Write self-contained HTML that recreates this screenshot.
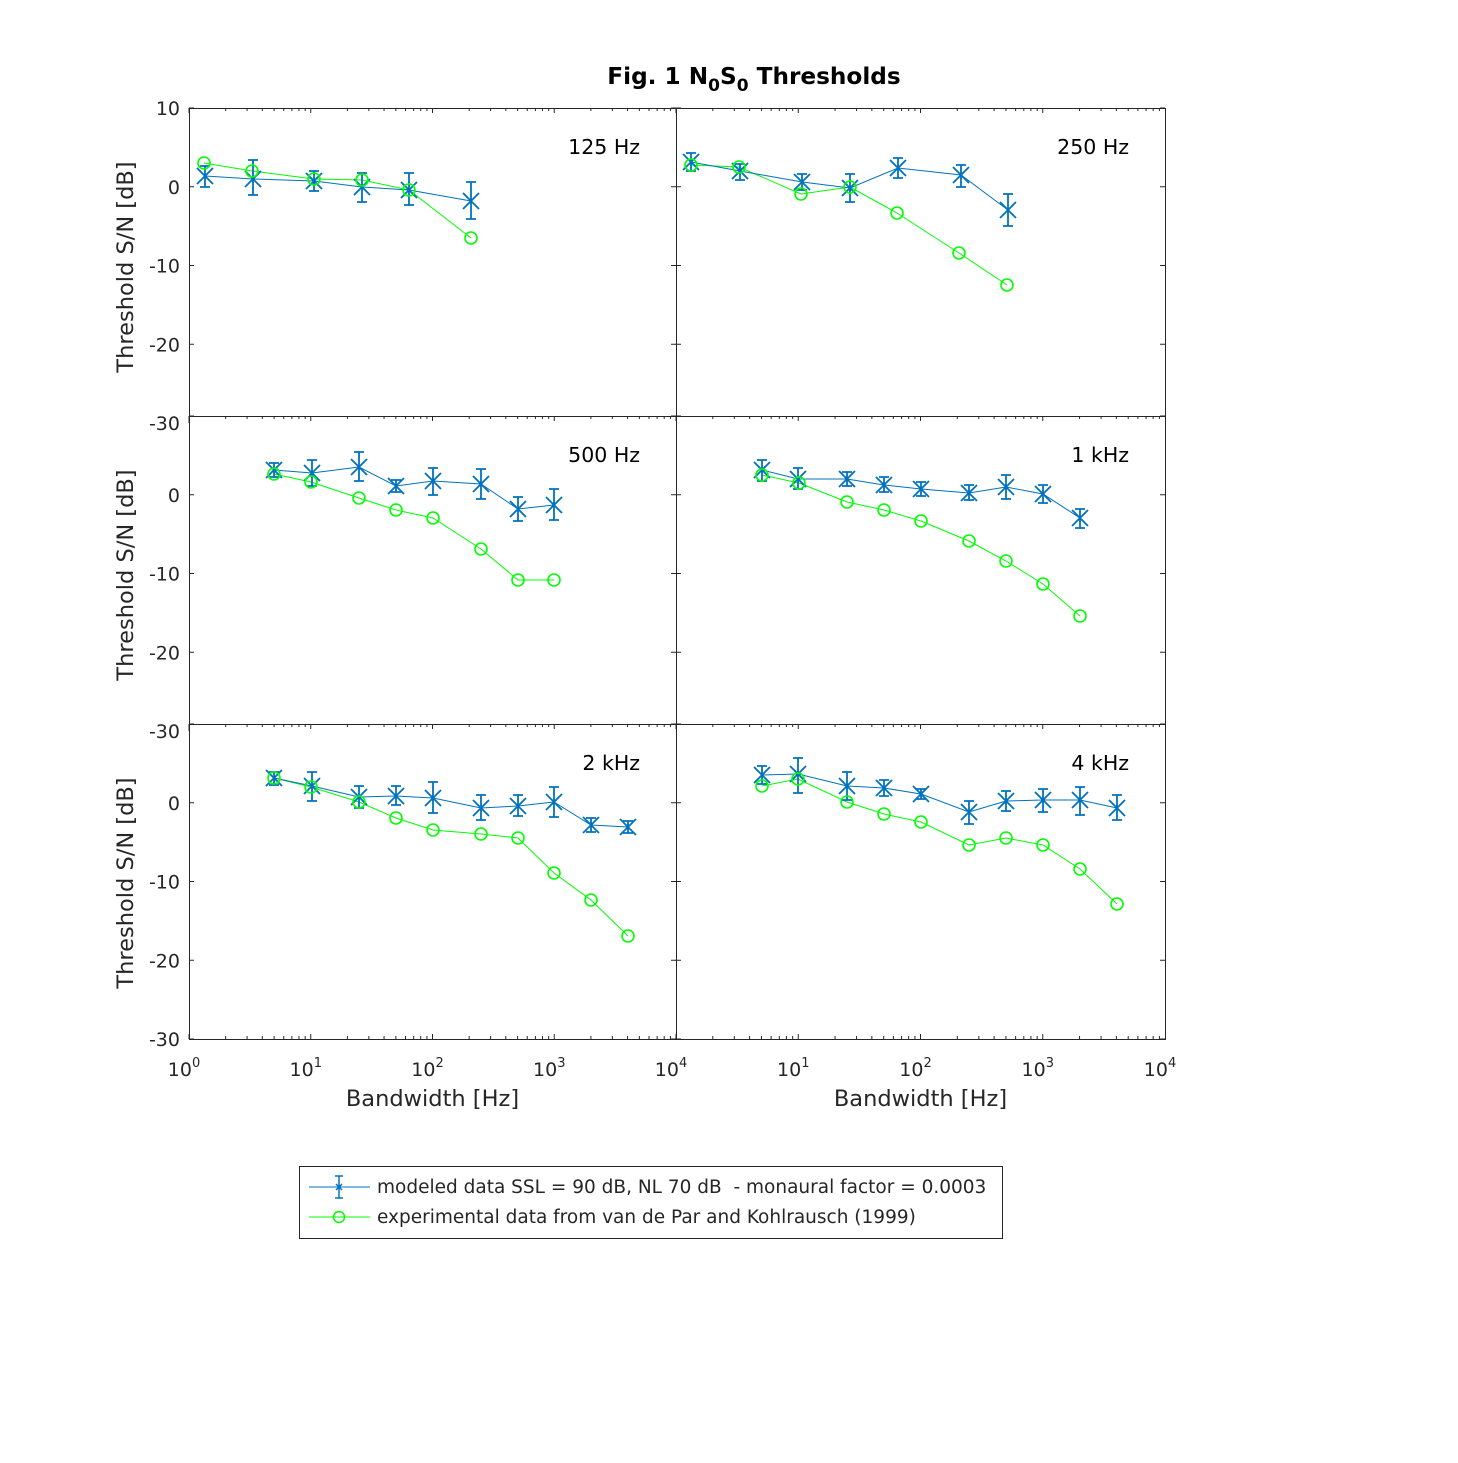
<!DOCTYPE html>
<html><head><meta charset="utf-8"><style>
html,body{margin:0;padding:0;background:#fff}
svg text{font-family:"DejaVu Sans","Liberation Sans",sans-serif;fill:#262626;white-space:pre}
</style></head><body>
<svg id="s" width="1458" height="1458" xmlns="http://www.w3.org/2000/svg">
<rect width="1458" height="1458" fill="#fff"/>
<text x="754" y="84" text-anchor="middle" font-size="23.2" font-weight="bold" style="fill:#000">Fig. 1 N<tspan font-size="17" dy="7">0</tspan><tspan dy="-7">S</tspan><tspan font-size="17" dy="7">0</tspan><tspan dy="-7"> Thresholds</tspan></text>
<g id="g"></g>
<rect x="299.5" y="1166.5" width="703" height="72" fill="#fff" stroke="#262626" stroke-width="1"/>
<line x1="309" y1="1187" x2="370" y2="1187" stroke="#0072BD" stroke-width="1"/>
<line x1="339" y1="1176" x2="339" y2="1198" stroke="#0072BD" stroke-width="1.5"/>
<line x1="335" y1="1176" x2="343" y2="1176" stroke="#0072BD" stroke-width="1.5"/>
<line x1="335" y1="1198" x2="343" y2="1198" stroke="#0072BD" stroke-width="1.5"/>
<path d="M336 1184L342 1190M342 1184L336 1190" stroke="#0072BD" stroke-width="1.5"/>
<line x1="309" y1="1217" x2="370" y2="1217" stroke="#00FF00" stroke-width="1"/>
<circle cx="339" cy="1217" r="5.5" fill="none" stroke="#00FF00" stroke-width="1.5"/>
<text x="377" y="1193" font-size="18.5">modeled data SSL = 90 dB, NL 70 dB  - monaural factor = 0.0003</text>
<text x="377" y="1223" font-size="18.5">experimental data from van de Par and Kohlrausch (1999)</text>
</svg>
<script>
const g=document.getElementById('g');let h='';
const B='#0072BD',G='#00FF00';
function panel(x0,x1,yt,label,left,bottom,top,right,blue,green){
  const yb=yt+315,dec=(x1-x0)/4,k=(yb-yt)/40;
  h+=`<rect x="${x0}" y="${yt}" width="${x1-x0}" height="${yb-yt}" fill="#fff"/>`;
  for(let v=10;v>=-30;v-=10){const y=yt+(10-v)*k;
    h+=`<line x1="${x0}" y1="${y}" x2="${x0+5}" y2="${y}" stroke="#262626"/><line x1="${x1}" y1="${y}" x2="${x1-5}" y2="${y}" stroke="#262626"/>`;
    if(left&&(top||v<10))h+=`<text x="${x0-9}" y="${y+7}" font-size="19" text-anchor="end">${v}</text>`;}
  for(let d=0;d<4;d++)for(let m=1;m<10;m++){const x=x0+(d+Math.log10(m))*dec;const L=m==1?5:3;
    h+=`<line x1="${x}" y1="${yt}" x2="${x}" y2="${yt+L}" stroke="#262626"/><line x1="${x}" y1="${yb}" x2="${x}" y2="${yb-L}" stroke="#262626"/>`;}
  if(bottom){for(let d=(right?1:0);d<=4;d++){const x=x0+d*dec;h+=`<text x="${x-5}" y="${yb+37}" font-size="19" text-anchor="middle">10<tspan font-size="13" dy="-9">${d}</tspan></text>`;}
    h+=`<text x="${(x0+x1)/2}" y="${yb+67}" font-size="22.5" text-anchor="middle">Bandwidth [Hz]</text>`;}
  if(left)h+=`<text transform="translate(133,${yt+159}) rotate(-90)" font-size="22.5" text-anchor="middle">Threshold S/N [dB]</text>`;
  h+=`<text x="${x1-36}" y="${yt+46}" font-size="20.5" text-anchor="end" style="fill:#000">${label}</text>`;
  h+=`<polyline points="${green.map(p=>p[0]+','+p[1]).join(' ')}" fill="none" stroke="${G}" stroke-width="1"/>`;
  h+=`<polyline points="${blue.map(p=>p[0]+','+p[1]).join(' ')}" fill="none" stroke="${B}" stroke-width="1"/>`;
  for(const p of blue){const [x,y,a,b]=p;
    h+=`<path d="M${x} ${a}V${b}M${x-5} ${a}H${x+5}M${x-5} ${b}H${x+5}M${x-8} ${y-8}L${x+8} ${y+8}M${x+8} ${y-8}L${x-8} ${y+8}" stroke="${B}" stroke-width="1.8" fill="none"/>`;}
  for(const p of green)h+=`<circle cx="${p[0]}" cy="${p[1]}" r="6" fill="none" stroke="${G}" stroke-width="1.6"/>`;
  h+=`<rect x="${x0+.5}" y="${yt+.5}" width="${x1-x0}" height="${yb-yt}" fill="none" stroke="#262626"/>`;
}
panel(189,676,108,'125 Hz',1,0,1,0,
[[205,176,166,187],[253,179,160,195],[314,181,171,191],[362,187,173,202],[409,190,173,205],[471,201,182,219]],
[[204,163],[252,171],[314,179],[362,180],[409,190],[471,238]]);
panel(676,1165,108,'250 Hz',0,0,1,1,
[[691,162,153,171],[740,171,164,180],[802,182,174,190],[850,188,174,202],[898,168,158,178],[961,175,165,187],[1008,210,194,226]],
[[691,165],[739,167],[801,194],[850,187],[897,213],[959,253],[1007,285]]);
panel(189,676,416,'500 Hz',1,0,0,0,
[[274,470,463,477],[312,473,460,486],[359,467,452,481],[396,486,480,492],[433,481,468,495],[481,484,469,499],[518,509,497,521],[554,505,489,520]],
[[274,474],[311,482],[359,498],[396,510],[433,518],[481,549],[518,580],[554,580]]);
panel(676,1165,416,'1 kHz',0,0,0,1,
[[762,470,460,481],[798,479,468,489],[847,479,472,486],[884,485,477,492],[921,489,482,496],[969,493,485,500],[1006,487,475,499],[1043,494,485,503],[1080,518,509,528]],
[[762,475],[799,483],[847,502],[884,510],[921,521],[969,541],[1006,561],[1043,584],[1080,616]]);
panel(189,676,724,'2 kHz',1,1,0,0,
[[274,778,772,785],[312,786,772,801],[359,797,786,808],[396,796,786,805],[433,798,782,813],[481,808,795,820],[518,806,795,816],[554,802,787,817],[591,825,818,832],[628,827,821,833]],
[[274,778],[311,787],[359,802],[396,818],[433,830],[481,834],[518,838],[554,873],[591,900],[628,936]]);
panel(676,1165,724,'4 kHz',0,1,0,1,
[[762,775,766,784],[798,774,758,793],[847,786,772,800],[884,788,780,796],[921,794,789,799],[969,812,801,824],[1006,801,791,811],[1043,800,789,812],[1080,800,787,815],[1117,808,795,820]],
[[762,786],[798,779],[847,802],[884,814],[921,822],[969,845],[1006,838],[1043,845],[1080,869],[1117,904]]);
g.innerHTML=h;
</script>
</body></html>
